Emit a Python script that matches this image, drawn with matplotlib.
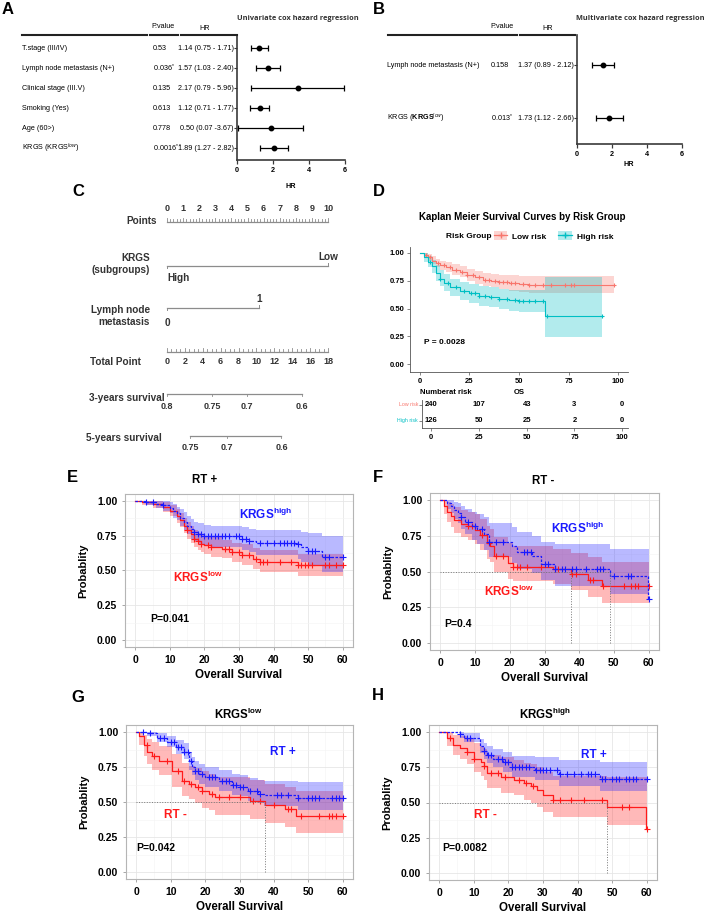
import numpy as np
import matplotlib
matplotlib.use('Agg')
import matplotlib.pyplot as plt
from matplotlib.lines import Line2D
from matplotlib.patches import Patch
from matplotlib.transforms import blended_transform_factory as btf

plt.rcParams['font.family'] = ['Liberation Sans', 'DejaVu Sans']
plt.rcParams['mathtext.fontset'] = 'custom'
plt.rcParams['mathtext.rm'] = 'Liberation Sans'
plt.rcParams['mathtext.bf'] = 'Liberation Sans:bold'
plt.rcParams['mathtext.it'] = 'Liberation Sans:italic'

# ---------------- data ----------------
# Panel A (univariate)
uni_labels = ['T.stage (III/IV)', 'Lymph node metastasis (N+)', 'Clinical stage (III.V)',
              'Smoking (Yes)', 'Age (60>)', 'KRGS (KRGS$^{low}$)']
uni_p = ['0.53', '0.036$^{*}$', '0.135', '0.613', '0.778', '0.0016$^{**}$']
uni_hr_txt = ['1.14 (0.75 - 1.71)', '1.57 (1.03 - 2.40)', '2.17 (0.79 - 5.96)',
              '1.12 (0.71 - 1.77)', '0.50 (0.07 -3.67)', '1.89 (1.27 - 2.82)']
uni_point = [1.24, 1.74, 3.41, 1.26, 1.89, 2.06]
uni_lo = [0.75, 1.03, 0.79, 0.71, 0.07, 1.27]
uni_hi = [1.71, 2.40, 5.96, 1.77, 3.67, 2.82]

# Panel B (multivariate)
multi_labels = ['Lymph node metastasis (N+)', 'KRGS ($\\mathbf{KRGS}^{low}$)']
multi_p = ['0.158', '0.013$^{*}$']
multi_hr_txt = ['1.37 (0.89 - 2.12)', '1.73 (1.12 - 2.66)']
multi_point = [1.47, 1.81]
multi_lo = [0.86, 1.10]
multi_hi = [2.10, 2.65]
hr_ticks = [0, 2, 4, 6]

# Panel C (nomogram)
nomo_points = np.arange(0, 11)
krgs_levels = ['High', 'Low']
krgs_pts = [0, 10]
lymph_levels = ['0', '1']
lymph_pts = [0, 5.7]
total_ticks = np.arange(0, 19, 2)
total_max = 18
surv3_labels = ['0.8', '0.75', '0.7', '0.6']
surv3_total = [0, 5.05, 8.9, 15.1]
surv5_labels = ['0.75', '0.7', '0.6']
surv5_total = [2.6, 6.7, 12.8]

# Panel D (risk groups)
d_low_t = [0, 2, 4, 6, 8, 10, 13, 16, 20, 24, 28, 32, 36, 40, 45, 50, 55]
d_low_s = [1.0, 0.98, 0.96, 0.93, 0.91, 0.89, 0.87, 0.85, 0.83, 0.80, 0.78, 0.76, 0.75, 0.74, 0.73, 0.72, 0.71]
d_low_lo = [1.0, 0.96, 0.93, 0.90, 0.87, 0.85, 0.83, 0.80, 0.78, 0.75, 0.72, 0.70, 0.69, 0.68, 0.66, 0.65, 0.64]
d_low_hi = [1.0, 1.0, 0.99, 0.97, 0.95, 0.93, 0.92, 0.90, 0.88, 0.86, 0.84, 0.82, 0.81, 0.80, 0.80, 0.79, 0.79]
d_low_end = 98
d_low_cens = [3, 5, 9, 12, 15, 18, 21, 24, 27, 30, 33, 35, 38, 40, 42, 44, 46, 48, 52, 55, 58, 62, 66, 73, 76, 78, 98]
d_high_t = [0, 2, 4, 6, 8, 10, 12, 15, 20, 25, 30, 35, 40, 45, 50, 63]
d_high_s = [1.0, 0.96, 0.92, 0.88, 0.82, 0.77, 0.73, 0.69, 0.66, 0.64, 0.61, 0.60, 0.59, 0.58, 0.57, 0.43]
d_high_lo = [1.0, 0.92, 0.87, 0.82, 0.75, 0.70, 0.66, 0.61, 0.58, 0.55, 0.52, 0.51, 0.50, 0.48, 0.47, 0.24]
d_high_hi = [1.0, 1.0, 0.97, 0.94, 0.89, 0.85, 0.81, 0.77, 0.74, 0.72, 0.70, 0.69, 0.68, 0.67, 0.67, 0.78]
d_high_end = 92
d_high_cens = [5, 10, 14, 18, 22, 26, 28, 30, 33, 36, 40, 44, 48, 50, 52, 55, 58, 62, 64, 92]
risk_times = [0, 25, 50, 75, 100]
risk_low = [240, 107, 43, 3, 0]
risk_high = [126, 50, 25, 2, 0]

# Panel E (RT+): KRGS high (blue) vs low (red)
e_b_t = [0, 3, 6, 8, 10, 11, 12, 13, 14, 15, 16, 17, 18, 20, 22, 31, 33, 35, 47, 48, 50, 54]
e_b_s = [1.0, 0.99, 0.98, 0.97, 0.95, 0.93, 0.91, 0.88, 0.85, 0.82, 0.80, 0.78, 0.76, 0.75, 0.745, 0.73, 0.71, 0.70, 0.69, 0.67, 0.64, 0.60]
e_b_lo = [1.0, 0.97, 0.95, 0.93, 0.91, 0.88, 0.86, 0.82, 0.79, 0.76, 0.73, 0.71, 0.69, 0.68, 0.67, 0.65, 0.63, 0.61, 0.58, 0.56, 0.53, 0.49]
e_b_hi = [1.0, 1.0, 1.0, 1.0, 0.99, 0.98, 0.96, 0.94, 0.92, 0.89, 0.87, 0.85, 0.84, 0.83, 0.82, 0.81, 0.80, 0.79, 0.79, 0.78, 0.77, 0.75]
e_b_cens = [3, 5, 8, 17, 18, 19, 20, 21, 22, 23, 24, 25, 26, 27, 29, 30, 31, 32, 33, 36, 38, 40, 42, 43, 44, 45, 46, 47, 50, 51, 52, 55, 56, 60]
e_r_t = [0, 2, 5, 8, 10, 12, 13, 14, 15, 16, 17, 18, 19, 20, 22, 25, 28, 31, 34, 36, 47]
e_r_s = [1.0, 0.99, 0.98, 0.96, 0.93, 0.89, 0.86, 0.82, 0.79, 0.76, 0.73, 0.71, 0.69, 0.68, 0.67, 0.655, 0.63, 0.615, 0.58, 0.56, 0.536]
e_r_lo = [1.0, 0.97, 0.95, 0.92, 0.89, 0.84, 0.81, 0.77, 0.73, 0.70, 0.67, 0.65, 0.63, 0.62, 0.60, 0.59, 0.56, 0.54, 0.51, 0.49, 0.46]
e_r_hi = [1.0, 1.0, 1.0, 0.99, 0.97, 0.94, 0.91, 0.88, 0.85, 0.82, 0.79, 0.77, 0.76, 0.75, 0.74, 0.72, 0.70, 0.69, 0.66, 0.65, 0.62]
e_r_cens = [15, 17, 18, 19, 21, 22, 26, 27, 28, 30, 31, 33, 35, 36, 37, 38, 42, 45, 47, 48, 49, 50, 51, 55, 56, 58, 60]

# Panel F (RT-)
f_b_t = [0, 2, 3, 4, 5, 6, 7, 9, 10.5, 12.5, 14, 20.5, 22, 26.5, 29, 33, 48.8, 59.8]
f_b_s = [1.0, 0.98, 0.96, 0.93, 0.91, 0.88, 0.85, 0.82, 0.80, 0.76, 0.71, 0.68, 0.64, 0.61, 0.555, 0.52, 0.47, 0.31]
f_b_lo = [1.0, 0.94, 0.91, 0.87, 0.84, 0.80, 0.76, 0.72, 0.69, 0.65, 0.60, 0.56, 0.52, 0.49, 0.44, 0.40, 0.34, 0.34]
f_b_hi = [1.0, 1.0, 1.0, 0.99, 0.98, 0.96, 0.94, 0.92, 0.90, 0.88, 0.84, 0.81, 0.78, 0.75, 0.71, 0.69, 0.655, 0.655]
f_b_cens = [6, 8, 10, 12, 14, 16, 18, 24, 25, 26, 30, 31, 33, 35, 36, 38, 39, 42, 45, 46, 47, 50, 54, 55, 60]
f_r_t = [0, 1, 2, 3, 4, 6, 8, 10, 11.4, 13.5, 14.2, 15.5, 19.5, 21, 32.5, 37.7, 42.6, 46.5]
f_r_s = [1.0, 0.96, 0.92, 0.89, 0.86, 0.83, 0.82, 0.79, 0.755, 0.70, 0.68, 0.61, 0.56, 0.535, 0.52, 0.48, 0.44, 0.40]
f_r_lo = [1.0, 0.90, 0.85, 0.81, 0.77, 0.74, 0.72, 0.69, 0.65, 0.59, 0.57, 0.50, 0.45, 0.43, 0.41, 0.37, 0.32, 0.28]
f_r_hi = [1.0, 1.0, 0.99, 0.97, 0.95, 0.93, 0.92, 0.90, 0.87, 0.82, 0.80, 0.74, 0.70, 0.68, 0.66, 0.63, 0.60, 0.57]
f_r_cens = [8, 9, 12, 14, 16, 18, 21, 22, 23, 25, 29, 33, 34, 38, 39, 43, 44, 47, 53, 55, 56, 57, 60]

# Panel G (KRGS low): RT+ (blue) vs RT- (red)
g_b_t = [0, 3, 6, 9, 11.5, 13.8, 15.3, 16.2, 17, 18.2, 20, 24, 27.7, 30, 32.6, 35.4, 37, 47]
g_b_s = [1.0, 0.99, 0.96, 0.93, 0.89, 0.86, 0.79, 0.75, 0.72, 0.70, 0.68, 0.65, 0.62, 0.61, 0.58, 0.56, 0.55, 0.53]
g_b_lo = [1.0, 0.97, 0.93, 0.89, 0.84, 0.81, 0.73, 0.69, 0.66, 0.63, 0.61, 0.58, 0.55, 0.54, 0.51, 0.49, 0.47, 0.44]
g_b_hi = [1.0, 1.0, 0.99, 0.97, 0.94, 0.92, 0.86, 0.82, 0.79, 0.77, 0.75, 0.73, 0.70, 0.69, 0.67, 0.66, 0.65, 0.64]
g_b_cens = [2, 4, 7, 8, 10, 11, 12, 13, 14, 15, 16, 17, 18, 19, 21, 22, 23, 25, 26, 27, 28, 29, 30, 31, 33, 35, 36, 41, 42, 44, 47, 50, 51, 52, 53, 57, 58, 59, 60]
g_r_t = [0, 0.9, 2.3, 3.2, 4.6, 6.6, 10.4, 13.3, 15.3, 17.2, 19, 21, 23, 33, 37.5, 43.2, 46.4]
g_r_s = [1.0, 0.97, 0.91, 0.86, 0.83, 0.79, 0.72, 0.65, 0.63, 0.61, 0.58, 0.56, 0.535, 0.51, 0.48, 0.45, 0.40]
g_r_lo = [1.0, 0.91, 0.83, 0.77, 0.73, 0.69, 0.61, 0.54, 0.52, 0.49, 0.46, 0.44, 0.41, 0.38, 0.35, 0.32, 0.28]
g_r_hi = [1.0, 1.0, 0.98, 0.95, 0.93, 0.90, 0.84, 0.78, 0.76, 0.74, 0.72, 0.70, 0.68, 0.66, 0.63, 0.61, 0.58]
g_r_cens = [3, 5, 9, 12, 14, 16, 18, 19, 22, 24, 27, 30, 34, 36, 40, 44, 45, 48, 53, 56, 57, 58, 60]

# Panel H (KRGS high)
h_b_t = [0, 6, 7, 11.8, 12.8, 13.8, 15.6, 18.5, 21, 27.7, 34.5, 46.5]
h_b_s = [1.0, 0.985, 0.96, 0.90, 0.865, 0.84, 0.81, 0.785, 0.75, 0.73, 0.70, 0.67]
h_b_lo = [1.0, 0.96, 0.93, 0.85, 0.81, 0.78, 0.75, 0.72, 0.68, 0.66, 0.62, 0.58]
h_b_hi = [1.0, 1.0, 0.99, 0.95, 0.92, 0.90, 0.88, 0.86, 0.83, 0.82, 0.80, 0.79]
h_b_cens = [6, 8, 9, 13, 14, 15, 17, 18, 19, 20, 21, 22, 23, 24, 25, 26, 28, 29, 30, 31, 32, 34, 35, 37, 39, 41, 43, 44, 45, 47, 48, 50, 51, 52, 54, 55, 56, 57, 60]
h_r_t = [0, 2.2, 4, 6, 8, 10, 12, 12.8, 13.8, 17.7, 21.5, 24.4, 26.5, 28.4, 30, 33, 48.6, 59.8]
h_r_s = [1.0, 0.96, 0.91, 0.89, 0.86, 0.81, 0.79, 0.76, 0.71, 0.68, 0.66, 0.64, 0.62, 0.59, 0.55, 0.52, 0.47, 0.31]
h_r_lo = [1.0, 0.90, 0.84, 0.81, 0.77, 0.72, 0.69, 0.66, 0.60, 0.57, 0.55, 0.52, 0.50, 0.47, 0.43, 0.40, 0.34, 0.34]
h_r_hi = [1.0, 1.0, 0.98, 0.97, 0.95, 0.92, 0.90, 0.88, 0.84, 0.82, 0.80, 0.78, 0.77, 0.75, 0.72, 0.69, 0.68, 0.68]
h_r_cens = [3, 8, 10, 13, 15, 17, 19, 23, 25, 27, 33, 35, 38, 42, 47, 53, 55, 60]

# ---------------- figure helpers ----------------
W, H = 709, 914
fig = plt.figure(figsize=(W / 100, H / 100), dpi=100)


def rect(x0, y0, x1, y1):
    return [x0 / W, 1 - y1 / H, (x1 - x0) / W, (y1 - y0) / H]


def ft(x, y, s, **kw):
    kw.setdefault('va', 'center')
    return fig.text(x / W, 1 - y / H, s, **kw)


def hseg(x0, x1, y, **kw):
    fig.add_artist(Line2D([x0 / W, x1 / W], [1 - y / H, 1 - y / H], transform=fig.transFigure, **kw))


NARROW = ['Liberation Sans Narrow', 'Liberation Sans']

# ---------------- panel letters ----------------
for lx, ly, L in [(2, 9, 'A'), (373, 9, 'B'), (72, 191, 'C'), (373, 191, 'D'),
                  (67, 478, 'E'), (373, 478, 'F'), (71, 697, 'G'), (372, 696, 'H')]:
    ft(lx, ly, L, fontsize=12, fontweight='bold', ha='left')


# ---------------- forest plots ----------------
def forest(box, ylim, labels, pvals, hrtxt, pts, los, his, lab_x, p_x, hr_r,
           hdr_p, hdr_hr, segs, title, title_x, hr_lab):
    ax = fig.add_axes(rect(*box))
    rows = np.arange(len(labels))
    ax.set_xlim(0, 6)
    ax.set_ylim(*ylim)
    pts = np.array(pts); los = np.array(los); his = np.array(his)
    ax.errorbar(pts, rows, xerr=[pts - los, his - pts], fmt='o', color='black', ms=3.2,
                elinewidth=0.9, capsize=2, capthick=0.9, clip_on=False)
    for s in ['top', 'right']:
        ax.spines[s].set_visible(False)
    for s in ['left', 'bottom']:
        ax.spines[s].set_color('#3a3a3a')
        ax.spines[s].set_linewidth(1.2)
    ax.set_xticks(hr_ticks)
    ax.set_yticks(rows)
    ax.set_yticklabels([])
    ax.tick_params(axis='x', length=3, width=0.9, labelsize=5.2, pad=2, color='#3a3a3a')
    ax.tick_params(axis='y', length=2.5, width=0.8, color='#3a3a3a')
    for t in ax.get_xticklabels():
        t.set_fontweight('bold')
    tr = btf(fig.transFigure, ax.transData)
    for i in rows:
        ax.text(lab_x / W, i, labels[i], transform=tr, ha='left', va='center', fontsize=5.2, family=NARROW)
        ax.text(p_x / W, i, pvals[i], transform=tr, ha='left', va='center', fontsize=5.2, family=NARROW)
        ax.text(hr_r / W, i, hrtxt[i], transform=tr, ha='right', va='center', fontsize=5.2, family=NARROW)
    ft(hdr_p, 27, 'P.value', ha='center', fontsize=5.2, family=NARROW)
    ft(hdr_hr, 29, 'HR', ha='center', fontsize=5.2, family=NARROW)
    for a, b in segs:
        hseg(a, b, 34.5, color='#222222', lw=1.5)
    ft(title_x, 19, title, ha='left', fontsize=5.3, fontweight='bold', color='#333333', family=['Open Sans', 'DejaVu Sans'])
    ft(hr_lab[0], hr_lab[1], 'HR', ha='center', fontsize=5.2, fontweight='bold')
    return ax


forest((237, 35, 345, 160), (5.6, -0.65), uni_labels, uni_p, uni_hr_txt, uni_point, uni_lo, uni_hi,
       22, 153, 234, 163, 205, [(22, 147), (150, 178), (181, 237)],
       'Univariate cox hazard regression', 237, (291, 187))
forest((577, 35, 682, 144), (1.49, -0.566), multi_labels, multi_p, multi_hr_txt, multi_point, multi_lo, multi_hi,
       387, 491, 574, 502, 548, [(388, 486), (488, 517), (520, 575)],
       'Multivariate cox hazard regression', 576, (629, 165))

# ---------------- nomogram (C) ----------------
axC = fig.add_axes(rect(40, 195, 360, 460))
x0px, ppx = 167, 16.1
axC.set_xlim((40 - x0px) / ppx, (360 - x0px) / ppx)
axC.set_ylim(460, 195)
axC.axis('off')
NC = '#333333'
LC = '#8c8c8c'


def px(v):
    return (v - x0px) / ppx


def tot2pts(v):
    return np.asarray(v, float) * 10.0 / total_max


# Points
axC.plot([nomo_points[0], nomo_points[-1]], [222, 222], color=LC, lw=0.9)
for v in np.arange(0, 10.001, 0.2):
    axC.plot([v, v], [222, 219.5 if abs(v - round(v)) > 1e-6 else 218.5], color=LC, lw=0.6)
for v in nomo_points:
    axC.text(v, 209, str(v), ha='center', va='center', fontsize=6.5, fontweight='bold', color=NC)
axC.text(px(157), 221, 'Points', ha='right', va='center', fontsize=7.2, fontweight='bold', color=NC)
# KRGS
axC.plot(krgs_pts, [266, 266], color=LC, lw=0.9)
axC.plot([krgs_pts[0]] * 2, [266, 268.5], color=LC, lw=0.7)
axC.plot([krgs_pts[1]] * 2, [266, 263.5], color=LC, lw=0.7)
axC.text(krgs_pts[1], 257, krgs_levels[1], ha='center', va='center', fontsize=7.2, fontweight='bold', color=NC)
axC.text(krgs_pts[0], 278, krgs_levels[0], ha='left', va='center', fontsize=7.2, fontweight='bold', color=NC)
axC.text(px(150), 264, 'KRGS\n(subgroups)', ha='right', va='center', ma='right', fontsize=7.2,
         fontweight='bold', color=NC, linespacing=1.25)
# Lymph node
axC.plot(lymph_pts, [308, 308], color=LC, lw=0.9)
axC.plot([lymph_pts[0]] * 2, [308, 310.5], color=LC, lw=0.7)
axC.plot([lymph_pts[1]] * 2, [308, 305.5], color=LC, lw=0.7)
axC.text(lymph_pts[1], 299, lymph_levels[1], ha='center', va='center', fontsize=7.2, fontweight='bold', color=NC)
axC.text(lymph_pts[0], 323, lymph_levels[0], ha='center', va='center', fontsize=7.2, fontweight='bold', color=NC)
axC.text(px(150), 316, 'Lymph node\nmetastasis', ha='right', va='center', ma='right', fontsize=7.2,
         fontweight='bold', color=NC, linespacing=1.25)
# Total points
axC.plot(tot2pts([0, total_max]), [352, 352], color=LC, lw=0.9)
for v in np.arange(0, total_max + 0.001, 0.5):
    axC.plot(tot2pts([v, v]), [352, 349.5 if v % 2 else 348.5], color=LC, lw=0.6)
for v in total_ticks:
    axC.text(tot2pts(v), 362, str(v), ha='center', va='center', fontsize=6.5, fontweight='bold', color=NC)
axC.text(px(141), 362, 'Total Point', ha='right', va='center', fontsize=7.2, fontweight='bold', color=NC)
# 3-year survival
axC.plot(tot2pts([min(surv3_total), max(surv3_total)]), [394, 394], color=LC, lw=0.9)
for v, lab in zip(surv3_total, surv3_labels):
    axC.plot(tot2pts([v, v]), [394, 396.5], color=LC, lw=0.6)
    axC.text(tot2pts(v), 407, lab, ha='center', va='center', fontsize=6.5, fontweight='bold', color=NC)
axC.text(px(165), 398, '3-years survival', ha='right', va='center', fontsize=7.2, fontweight='bold', color=NC)
# 5-year survival
axC.plot(tot2pts([min(surv5_total), max(surv5_total)]), [436, 436], color=LC, lw=0.9)
for v, lab in zip(surv5_total, surv5_labels):
    axC.plot(tot2pts([v, v]), [436, 438.5], color=LC, lw=0.6)
    axC.text(tot2pts(v), 448, lab, ha='center', va='center', fontsize=6.5, fontweight='bold', color=NC)
axC.text(px(162), 438, '5-years survival', ha='right', va='center', fontsize=7.2, fontweight='bold', color=NC)


# ---------------- KM helper ----------------
def km(ax, t, s, lo, hi, tend, color, ls, cens, alpha=0.3, ms=4, lw=0.9):
    t = np.asarray(t, float); s = np.asarray(s, float)
    tt = np.append(t, tend)
    ss = np.append(s, s[-1])
    ll = np.append(lo, lo[-1])
    hh = np.append(hi, hi[-1])
    ax.fill_between(tt, ll, hh, step='post', color=color, alpha=alpha, lw=0)
    ax.step(tt, ss, where='post', color=color, ls=ls, lw=lw)
    c = np.asarray(cens, float)
    idx = np.searchsorted(t, c, side='right') - 1
    ax.plot(c, s[idx], '+', color=color, ms=ms, mew=0.8, ls='none')


def median(t, s):
    s = np.asarray(s)
    if np.any(s <= 0.5):
        return np.asarray(t)[np.argmax(s <= 0.5)]
    return None


# ---------------- panel D ----------------
LOWC, HIGHC = '#F8766D', '#00BFC4'
axD = fig.add_axes(rect(410, 247, 628, 372))
axD.set_xlim(-5, 105)
axD.set_ylim(-0.072, 1.054)
km(axD, d_low_t, d_low_s, d_low_lo, d_low_hi, d_low_end, LOWC, '-', d_low_cens, ms=3.5, lw=0.8)
km(axD, d_high_t, d_high_s, d_high_lo, d_high_hi, d_high_end, HIGHC, '-', d_high_cens, ms=3.5, lw=0.8)
for s in ['top', 'right']:
    axD.spines[s].set_visible(False)
for s in ['left', 'bottom']:
    axD.spines[s].set_color('#555555'); axD.spines[s].set_linewidth(0.6)
axD.set_xticks(risk_times)
axD.set_yticks([0, 0.25, 0.5, 0.75, 1.0])
axD.set_yticklabels(['0.00', '0.25', '0.50', '0.75', '1.00'])
axD.tick_params(length=2, width=0.5, labelsize=5.5, pad=2, color='#555555')
for t in axD.get_xticklabels() + axD.get_yticklabels():
    t.set_fontweight('bold')
axD.text(2, 0.19, 'P = 0.0028', fontsize=6, fontweight='bold', ha='left', va='center')
ft(522, 217, 'Kaplan Meier Survival Curves by Risk Group', ha='center', fontsize=7, fontweight='bold')
ft(446, 236, 'Risk Group', ha='left', fontsize=6, fontweight='bold')
handles = [(Patch(facecolor=LOWC, alpha=0.3, lw=0), Line2D([], [], color=LOWC, marker='+', lw=0.9, ms=4)),
           (Patch(facecolor=HIGHC, alpha=0.3, lw=0), Line2D([], [], color=HIGHC, marker='+', lw=0.9, ms=4))]
axD.legend(handles, ['Low risk', 'High risk'], ncol=2, loc='center left',
           bbox_to_anchor=(494 / W, 1 - 236 / H), bbox_transform=fig.transFigure, frameon=False,
           prop={'size': 6, 'weight': 'bold'}, handlelength=1.6, handleheight=1.2, columnspacing=1.4,
           handletextpad=0.6, borderaxespad=0, borderpad=0)

# risk table
axT = fig.add_axes(rect(422, 400, 628, 428))
axT.set_xlim(-4.7, 103)
axT.set_ylim(-0.44, 1.31)
for s in ['top', 'right']:
    axT.spines[s].set_visible(False)
for s in ['left', 'bottom']:
    axT.spines[s].set_color('#555555'); axT.spines[s].set_linewidth(0.6)
axT.set_xticks(risk_times)
axT.set_yticks([0, 1])
axT.set_yticklabels([])
axT.tick_params(length=2, width=0.5, labelsize=5.5, pad=2, color='#555555')
for t in axT.get_xticklabels():
    t.set_fontweight('bold')
for row, vals in [(1, risk_low), (0, risk_high)]:
    for tx, n in zip(risk_times, vals):
        axT.text(tx, row, str(n), ha='center', va='center', fontsize=5.5, fontweight='bold')
trT = btf(fig.transFigure, axT.transData)
axT.text(418 / W, 1, 'Low risk', transform=trT, ha='right', va='center', fontsize=3.8, color=LOWC)
axT.text(418 / W, 0, 'High risk', transform=trT, ha='right', va='center', fontsize=3.8, color=HIGHC)
ft(420, 393, 'Numberat risk', ha='left', fontsize=5.5, fontweight='bold')
ft(519, 393, 'OS', ha='center', fontsize=5.5, fontweight='bold')

# ---------------- panels E-H ----------------
RED, BLUE = '#FF1A1A', '#1A1AFF'


def gg(ax):
    ax.set_xlim(-3, 63)
    ax.set_ylim(-0.05, 1.05)
    ax.set_xticks(range(0, 61, 10))
    ax.set_xticks(range(5, 60, 10), minor=True)
    ax.set_yticks([0, 0.25, 0.5, 0.75, 1.0])
    ax.set_yticks([0.125, 0.375, 0.625, 0.875], minor=True)
    ax.set_yticklabels(['0.00', '0.25', '0.50', '0.75', '1.00'])
    ax.grid(which='major', color='#E6E6E6', lw=0.6)
    ax.grid(which='minor', color='#F3F3F3', lw=0.4)
    ax.set_axisbelow(True)
    for s in ax.spines.values():
        s.set_color('#B5B5B5'); s.set_linewidth(0.8)
    ax.tick_params(which='major', length=2.5, width=0.6, color='#999999', labelsize=7.5, pad=3)
    ax.tick_params(which='minor', length=0)
    for t in ax.get_xticklabels() + ax.get_yticklabels():
        t.set_fontweight('bold')
    ax.set_xlabel('Overall Survival', fontsize=8.3, fontweight='bold', labelpad=3)
    ax.set_ylabel('Probablity', fontsize=8, fontweight='bold', labelpad=6)


def km_panel(box, blue, red, title, title_x, title_y, ann, ptxt):
    ax = fig.add_axes(rect(*box))
    gg(ax)
    bt, bs, blo, bhi, bc = blue
    rt, rs, rlo, rhi, rc = red
    km(ax, rt, rs, rlo, rhi, 60, RED, '-', rc, alpha=0.3)
    km(ax, bt, bs, blo, bhi, 60, BLUE, (0, (2, 1.2)), bc, alpha=0.3)
    meds = [m for m in (median(bt, bs), median(rt, rs)) if m is not None]
    if meds:
        ax.plot([0, max(meds)], [0.5, 0.5], color='#777777', ls=':', lw=0.7)
        for m in meds:
            ax.plot([m, m], [0, 0.5], color='#777777', ls=':', lw=0.7)
    for (x, y, s, c) in ann:
        ax.text(x, y, s, color=c, fontsize=8.5, fontweight='bold', ha='left', va='center')
    ax.text(ptxt[0], ptxt[1], ptxt[2], fontsize=7.5, fontweight='bold', ha='left', va='center')
    ft(title_x, title_y, title, ha='center', fontsize=8.3, fontweight='bold')
    return ax


HI = r'$\mathbf{KRGS}^{\mathbf{high}}$'
LO = r'$\mathbf{KRGS}^{\mathbf{low}}$'
km_panel((125, 494, 353, 647), (e_b_t, e_b_s, e_b_lo, e_b_hi, e_b_cens), (e_r_t, e_r_s, e_r_lo, e_r_hi, e_r_cens),
         'RT +', 205, 480, [(30, 0.90, HI, BLUE), (11, 0.45, LO, RED)], (4.3, 0.15, 'P=0.041'))
km_panel((430, 493, 659, 650), (f_b_t, f_b_s, f_b_lo, f_b_hi, f_b_cens), (f_r_t, f_r_s, f_r_lo, f_r_hi, f_r_cens),
         'RT -', 543, 481, [(32, 0.80, HI, BLUE), (12.5, 0.36, LO, RED)], (1.1, 0.134, 'P=0.4'))
km_panel((126, 725, 353, 879), (g_b_t, g_b_s, g_b_lo, g_b_hi, g_b_cens), (g_r_t, g_r_s, g_r_lo, g_r_hi, g_r_cens),
         LO, 238, 714, [(39, 0.857, 'RT +', BLUE), (8, 0.41, 'RT -', RED)], (0, 0.17, 'P=0.042'))
km_panel((429, 725, 657, 880), (h_b_t, h_b_s, h_b_lo, h_b_hi, h_b_cens), (h_r_t, h_r_s, h_r_lo, h_r_hi, h_r_cens),
         HI, 545, 714, [(41, 0.84, 'RT +', BLUE), (10, 0.41, 'RT -', RED)], (0.9, 0.18, 'P=0.0082'))

fig.savefig('out.png', dpi=100)
